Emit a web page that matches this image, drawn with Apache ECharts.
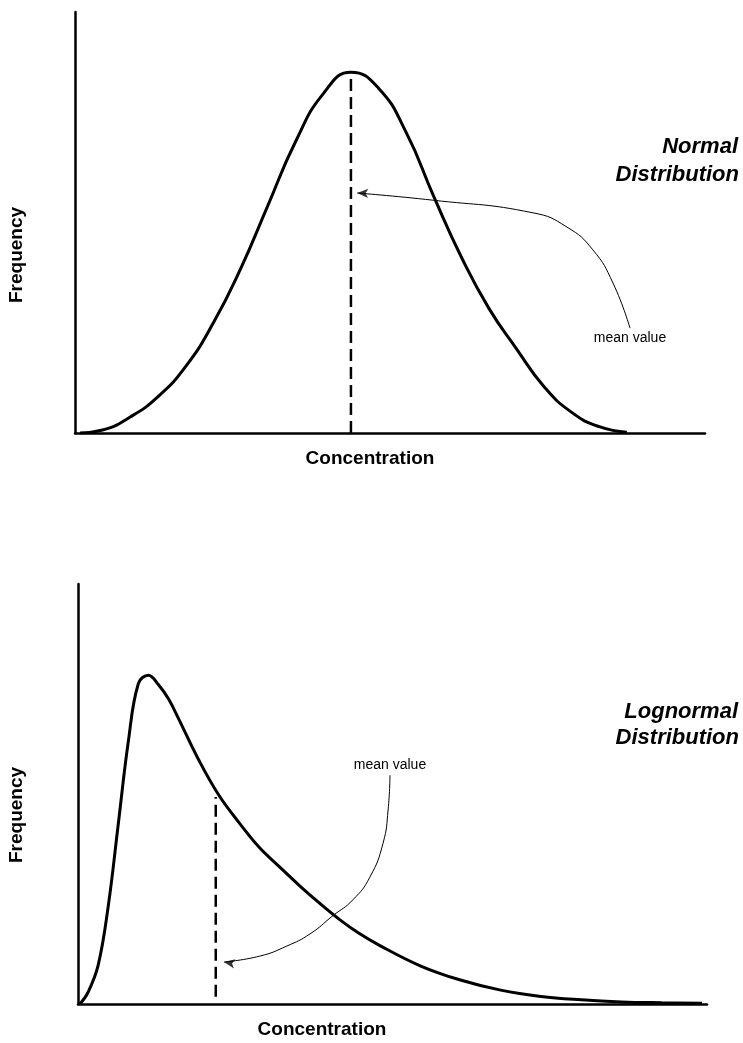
<!DOCTYPE html>
<html>
<head>
<meta charset="utf-8">
<script src="https://cdn.jsdelivr.net/npm/echarts@6/dist/echarts.min.js"></script>
<style>
html,body{margin:0;padding:0;background:#fff;}
#chart{width:743px;height:1043px;}
</style>
</head>
<body>
<div id="chart"></div>
<script>
// Normal distribution curve (concentration, frequency)
var normalX = [0.8, 4.38, 8.76, 13.14, 17.52, 21.9, 26.28, 30.66, 35.04, 39.42, 43.8, 48.18, 52.56, 56.94, 61.32, 65.7, 70.08, 74.46, 78.84, 83.22, 87.6];
var normalY = [0, 0.7, 3.8, 8.6, 15.7, 26.0, 39.0, 54.2, 69.3, 80.6, 85.7, 81.9, 71.4, 56.2, 41.8, 29.6, 20.0, 11.0, 4.9, 1.5, 0.2];
var normalMean = 43.8;
var normalMeanTop = 85.7;

// Lognormal distribution curve
var lognormX = [0.3, 1.6, 3.2, 4.8, 6.4, 8.0, 9.6, 11.2, 12.8, 14.4, 16.0, 19.2, 22.4, 25.6, 28.8, 32.0, 35.2, 38.4, 41.6, 44.8, 48.0, 54.4, 60.8, 67.2, 73.6, 80.0, 86.4, 92.8, 99.2];
var lognormY = [0, 2.8, 9.2, 23.2, 42.8, 62.5, 76.3, 78.3, 76.0, 72.6, 67.9, 58.1, 49.7, 43.2, 37.3, 32.7, 28.2, 24.0, 20.1, 16.7, 13.9, 9.1, 5.7, 3.3, 1.8, 1.0, 0.5, 0.3, 0.2];
var lognormMean = 21.9;
var lognormMeanBottom = 1.7;
var lognormMeanTop = 49.3;

// annotation arrows (data units), tip first
var normalArrowX = [44.8, 56.8, 72.7, 78.1, 82.2, 85.4, 88.1];
var normalArrowY = [57.0, 55.3, 52.3, 48.9, 43.5, 35.6, 24.9];
var lognormArrowX = [23.2, 28.9, 33.2, 36.9, 40.5, 43.7, 46.4, 48.5, 49.3, 49.6];
var lognormArrowY = [10.0, 11.4, 13.8, 16.7, 21.0, 24.8, 30.2, 38.3, 46.2, 54.5];

function zip(a, b) { return a.map(function (v, i) { return [v, b[i]]; }); }

var chart = echarts.init(document.getElementById('chart'), null, {renderer: 'canvas'});

function axisX(gi) {
  return {type: 'value', gridIndex: gi, min: 0, max: 100,
    axisLine: {show: true, onZero: false, lineStyle: {color: '#000', width: 2.5}},
    axisTick: {show: false}, axisLabel: {show: false}, splitLine: {show: false}};
}
function axisY(gi) {
  return {type: 'value', gridIndex: gi, min: 0, max: 100,
    axisLine: {show: true, onZero: false, lineStyle: {color: '#000', width: 2.5}},
    axisTick: {show: false}, axisLabel: {show: false}, splitLine: {show: false}};
}

var curveStyle = {color: '#000', width: 3};
var FONT = '"Liberation Sans", Arial, sans-serif';

chart.setOption({
  animation: false,
  backgroundColor: '#fff',
  grid: [
    {left: 75, top: 12, width: 630, height: 421},
    {left: 78, top: 584, width: 629, height: 420}
  ],
  xAxis: [axisX(0), axisX(1)],
  yAxis: [axisY(0), axisY(1)],
  series: [
    {type: 'line', xAxisIndex: 0, yAxisIndex: 0, data: zip(normalX, normalY), smooth: 0.5,
      showSymbol: false, lineStyle: curveStyle, z: 3},
    {type: 'line', xAxisIndex: 0, yAxisIndex: 0, data: [[normalMean, 0], [normalMean, normalMeanTop]],
      showSymbol: false, lineStyle: {color: '#000', width: 2.5, type: [12, 6]}},
    {type: 'line', xAxisIndex: 0, yAxisIndex: 0, data: zip(normalArrowX, normalArrowY), smooth: 0.5,
      showSymbol: false, lineStyle: {color: '#000', width: 1}},
    {type: 'scatter', xAxisIndex: 0, yAxisIndex: 0, data: [[normalArrowX[0], normalArrowY[0]]],
      symbol: 'arrow', symbolSize: [7, 11], symbolRotate: 88,
      itemStyle: {color: '#000'}},

    {type: 'line', xAxisIndex: 1, yAxisIndex: 1, data: zip(lognormX, lognormY), smooth: 0.4,
      showSymbol: false, lineStyle: curveStyle, z: 3},
    {type: 'line', xAxisIndex: 1, yAxisIndex: 1, data: [[lognormMean, lognormMeanBottom], [lognormMean, lognormMeanTop]],
      showSymbol: false, lineStyle: {color: '#000', width: 2.5, type: [12, 6]}},
    {type: 'line', xAxisIndex: 1, yAxisIndex: 1, data: zip(lognormArrowX, lognormArrowY), smooth: 0.5,
      showSymbol: false, lineStyle: {color: '#000', width: 1}},
    {type: 'scatter', xAxisIndex: 1, yAxisIndex: 1, data: [[lognormArrowX[0], lognormArrowY[0]]],
      symbol: 'arrow', symbolSize: [7, 11], symbolRotate: 80,
      itemStyle: {color: '#000'}}
  ],
  graphic: [
    {type: 'text', style: {text: 'Normal', x: 738, y: 147, align: 'right', verticalAlign: 'middle',
      font: 'italic bold 22px ' + FONT, fill: '#000'}},
    {type: 'text', style: {text: 'Distribution', x: 739, y: 175, align: 'right', verticalAlign: 'middle',
      font: 'italic bold 22px ' + FONT, fill: '#000'}},
    {type: 'text', style: {text: 'mean value', x: 630, y: 338, align: 'center', verticalAlign: 'middle',
      font: '14px ' + FONT, fill: '#000'}},
    {type: 'text', style: {text: 'Concentration', x: 370, y: 459, align: 'center', verticalAlign: 'middle',
      font: 'bold 19px ' + FONT, fill: '#000'}},
    {type: 'text', rotation: Math.PI / 2, x: 17, y: 255, style: {text: 'Frequency', x: 0, y: 0, align: 'center', verticalAlign: 'middle',
      font: 'bold 19px ' + FONT, fill: '#000'}},

    {type: 'text', style: {text: 'Lognormal', x: 738, y: 712, align: 'right', verticalAlign: 'middle',
      font: 'italic bold 22px ' + FONT, fill: '#000'}},
    {type: 'text', style: {text: 'Distribution', x: 739, y: 738, align: 'right', verticalAlign: 'middle',
      font: 'italic bold 22px ' + FONT, fill: '#000'}},
    {type: 'text', style: {text: 'mean value', x: 390, y: 765, align: 'center', verticalAlign: 'middle',
      font: '14px ' + FONT, fill: '#000'}},
    {type: 'text', style: {text: 'Concentration', x: 322, y: 1030, align: 'center', verticalAlign: 'middle',
      font: 'bold 19px ' + FONT, fill: '#000'}},
    {type: 'text', rotation: Math.PI / 2, x: 17, y: 815, style: {text: 'Frequency', x: 0, y: 0, align: 'center', verticalAlign: 'middle',
      font: 'bold 19px ' + FONT, fill: '#000'}}
  ]
});
</script>
</body>
</html>
